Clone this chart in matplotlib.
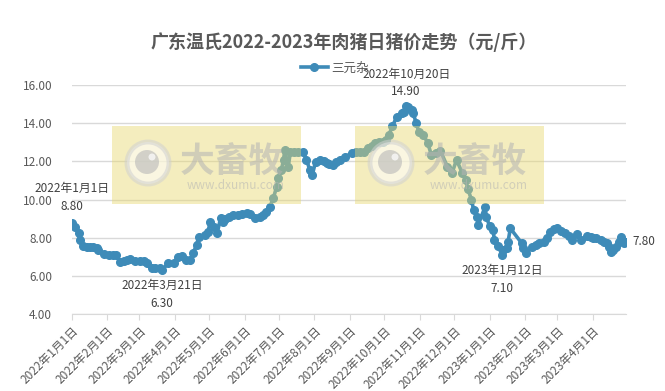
import numpy as np
import pandas as pd
import matplotlib
matplotlib.use('Agg')
import matplotlib.pyplot as plt
from matplotlib.patches import Rectangle, Circle

plt.rcParams['font.family'] = ['Noto Sans CJK SC', 'DejaVu Sans']

title = '广东温氏2022-2023年肉猪日猪价走势（元/斤）'
series_name = '三元杂'

dates = ['2022-01-01', '2022-01-04', '2022-01-07', '2022-01-08', '2022-01-11', '2022-01-14',
         '2022-01-17', '2022-01-20', '2022-01-23', '2022-01-24', '2022-01-29', '2022-02-03',
         '2022-02-06', '2022-02-09', '2022-02-12', '2022-02-16', '2022-02-18', '2022-02-21',
         '2022-02-25', '2022-03-02', '2022-03-05', '2022-03-08', '2022-03-12', '2022-03-15',
         '2022-03-19', '2022-03-21', '2022-03-26', '2022-03-31', '2022-04-04', '2022-04-07',
         '2022-04-11', '2022-04-14', '2022-04-17', '2022-04-20', '2022-04-22', '2022-04-27',
         '2022-04-30', '2022-05-02', '2022-05-05', '2022-05-08', '2022-05-11', '2022-05-13',
         '2022-05-15', '2022-05-18', '2022-05-22', '2022-05-26', '2022-05-30', '2022-06-03',
         '2022-06-06', '2022-06-10', '2022-06-14', '2022-06-17', '2022-06-20', '2022-06-23',
         '2022-06-26', '2022-06-29', '2022-06-30', '2022-07-03', '2022-07-05', '2022-07-06',
         '2022-07-09', '2022-07-11', '2022-07-14', '2022-07-18', '2022-07-22', '2022-07-25',
         '2022-07-28', '2022-07-30', '2022-08-02', '2022-08-06', '2022-08-09', '2022-08-12',
         '2022-08-14', '2022-08-17', '2022-08-20', '2022-08-23', '2022-08-28', '2022-09-03',
         '2022-09-06', '2022-09-10', '2022-09-13', '2022-09-17', '2022-09-20', '2022-09-23',
         '2022-09-26', '2022-09-30', '2022-10-02', '2022-10-05', '2022-10-08', '2022-10-12',
         '2022-10-16', '2022-10-18', '2022-10-20', '2022-10-22', '2022-10-25', '2022-10-26',
         '2022-10-29', '2022-10-31', '2022-11-04', '2022-11-08', '2022-11-11', '2022-11-15',
         '2022-11-19', '2022-11-25', '2022-11-29', '2022-12-03', '2022-12-08', '2022-12-11',
         '2022-12-13', '2022-12-16', '2022-12-18', '2022-12-21', '2022-12-22', '2022-12-28',
         '2022-12-29', '2023-01-01', '2023-01-04', '2023-01-05', '2023-01-08', '2023-01-12',
         '2023-01-13', '2023-01-16', '2023-01-17', '2023-01-19', '2023-01-29', '2023-01-30',
         '2023-02-02', '2023-02-07', '2023-02-10', '2023-02-13', '2023-02-17', '2023-02-20',
         '2023-02-23', '2023-02-26', '2023-03-01', '2023-03-04', '2023-03-08', '2023-03-11',
         '2023-03-14', '2023-03-18', '2023-03-22', '2023-03-27', '2023-03-30', '2023-04-01',
         '2023-04-04', '2023-04-08', '2023-04-11', '2023-04-13', '2023-04-15', '2023-04-17',
         '2023-04-19', '2023-04-21', '2023-04-24', '2023-04-26', '2023-04-28', '2023-04-30']
prices = [8.80, 8.59, 8.27, 7.89, 7.58, 7.55,
          7.54, 7.50, 7.45, 7.37, 7.14, 7.10,
          7.10, 7.10, 6.75, 6.80, 6.85, 6.88,
          6.80, 6.81, 6.78, 6.67, 6.41, 6.41,
          6.41, 6.30, 6.67, 6.70, 7.00, 7.05,
          6.84, 6.84, 7.19, 7.63, 8.06, 8.15,
          8.32, 8.85, 8.59, 8.24, 9.03, 8.85,
          9.00, 9.11, 9.20, 9.20, 9.25, 9.29,
          9.25, 9.03, 9.11, 9.20, 9.37, 9.63,
          10.07, 10.68, 11.12, 11.55, 12.08, 12.60,
          11.70, 12.51, 12.51, 12.51, 12.51, 12.08,
          11.55, 11.29, 11.99, 12.08, 12.00, 11.90,
          11.85, 11.82, 11.95, 12.08, 12.25, 12.45,
          12.50, 12.51, 12.50, 12.69, 12.80, 12.95,
          13.00, 13.04, 13.10, 13.39, 13.85, 14.35,
          14.52, 14.61, 14.90, 14.85, 14.70, 14.52,
          14.00, 13.56, 13.39, 12.95, 12.34, 12.45,
          12.55, 11.73, 11.38, 12.08, 11.40, 11.03,
          10.55, 10.00, 9.46, 9.11, 8.70, 9.63,
          9.10, 8.60, 8.41, 7.89, 7.60, 7.10,
          7.37, 7.45, 7.80, 8.50, 7.72, 7.45,
          7.19, 7.54, 7.65, 7.72, 7.80, 8.00,
          8.32, 8.45, 8.50, 8.35, 8.24, 8.10,
          7.89, 8.20, 7.89, 8.10, 8.05, 8.00,
          7.98, 7.89, 7.80, 7.72, 7.50, 7.28,
          7.35, 7.54, 7.80, 8.06, 7.72, 7.80]

# labelled points: (date, offset x px, offset y px, ha, va, two-line label)
labels = [('2022-01-01', 0, 10, 'center', 'bottom', True),
          ('2022-03-21', 0, -9, 'center', 'top', True),
          ('2022-10-20', 0, 8, 'center', 'bottom', True),
          ('2023-01-12', 0, -9, 'center', 'top', True),
          ('2023-04-30', 6, 0, 'left', 'center', False)]

x = pd.to_datetime(dates)
y = np.array(prices)

fig = plt.figure(figsize=(6.65, 3.91), dpi=100)
ax = fig.add_axes([0.1078, 0.196, 0.8336, 0.5866])

line_color = '#3E8BB8'
ax.plot(x, y, color=line_color, lw=2.6, marker='o', ms=5.5, mec=line_color, mfc=line_color,
        label=series_name, zorder=3)

ax.set_ylim(4, 16)
ax.set_yticks(np.arange(4, 16.1, 2))
ax.yaxis.set_major_formatter(plt.FuncFormatter(lambda v, p: '%.2f' % v))
ax.set_xlim(pd.Timestamp('2022-01-01'), pd.Timestamp('2023-04-30'))
months = pd.date_range('2022-01-01', '2023-04-01', freq='MS')
ax.set_xticks(months)
ax.set_xticklabels(['%d年%d月%d日' % (d.year, d.month, d.day) for d in months],
                   rotation=45, ha='right', va='top', rotation_mode='anchor')

ax.grid(axis='y', color='#D9D9D9', lw=1)
ax.set_axisbelow(True)
for s in ['top', 'right', 'left']:
    ax.spines[s].set_visible(False)
ax.spines['bottom'].set_color('#D9D9D9')
ax.tick_params(axis='y', length=0, pad=14, labelsize=8.5, labelcolor='#595959')
ax.tick_params(axis='x', length=4, color='#D9D9D9', pad=3, labelsize=8.5, labelcolor='#595959')

for d, ox, oy, ha, va, two in labels:
    t = pd.Timestamp(d)
    v = y[list(x).index(t)]
    txt = '%d年%d月%d日\n%.2f' % (t.year, t.month, t.day, v) if two else '%.2f' % v
    ax.annotate(txt, (t, v), xytext=(ox, oy), textcoords='offset pixels', ha=ha, va=va,
                fontsize=8.5, color='#404040', linespacing=1.45, zorder=5, annotation_clip=False)

fig.text(0.517, 0.893, title, ha='center', va='center', fontsize=13, fontweight='bold',
         color='#595959')
fig.legend(loc='center', bbox_to_anchor=(0.503, 0.826), frameon=False, fontsize=9,
           handlelength=2.2, handletextpad=0.2, labelcolor='#595959')

# watermarks overlaid on the chart
W, H = 665.0, 391.0
for bx in [112, 355]:
    by, bw, bh = 126, 189, 78
    fig.patches.append(Rectangle((bx / W, 1 - (by + bh) / H), bw / W, bh / H,
                                 transform=fig.transFigure, facecolor='#E8D870', alpha=0.45,
                                 edgecolor='none', zorder=10))
    cx, cy = bx + 36, by + 37
    fig.patches.append(Circle((cx, H - cy), 21, transform=None, facecolor='#FFFFFF',
                              edgecolor='#D0D0D0', lw=3.5, alpha=0.55, zorder=11))
    fig.patches.append(Circle((cx - 1, H - cy + 1), 12, transform=None, facecolor='#B8B8B8',
                              edgecolor='none', alpha=0.6, zorder=12))
    fig.patches.append(Circle((cx + 4, H - cy + 6), 3.5, transform=None, facecolor='#FFFFFF',
                              edgecolor='none', alpha=0.7, zorder=13))
    fig.text((bx + 120) / W, 1 - (by + 35) / H, '大畜牧', ha='center', va='center', fontsize=25,
             fontweight='bold', color='#B4B4B4', alpha=0.55, zorder=12)
    fig.text((bx + 124) / W, 1 - (by + 59) / H, 'www.dxumu.com', ha='center', va='center',
             fontsize=8.5, color='#B4B4B4', alpha=0.55, zorder=12)

fig.savefig('out.png', dpi=100)
